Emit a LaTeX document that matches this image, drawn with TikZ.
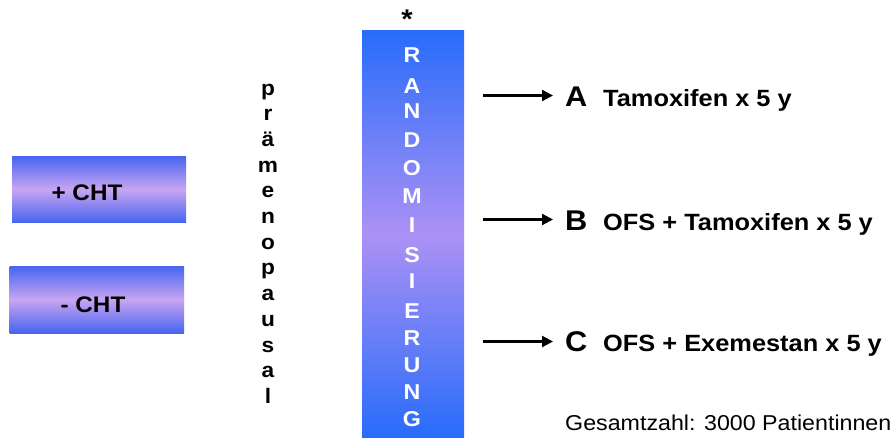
\documentclass[tikz,border=0pt]{standalone}
\usepackage{fontspec}
\setmainfont{Liberation Sans}[FakeStretch=1.08]
\usetikzlibrary{arrows.meta}
\definecolor{barblue}{RGB}{40,108,250}
\definecolor{barmid}{RGB}{172,145,245}
\definecolor{boxblue}{RGB}{70,100,240}
\definecolor{boxmid}{RGB}{200,165,242}
\tikzset{
  barletter/.style={anchor=base, text=white, inner sep=0pt, font=\fontsize{21.5}{21.5}\selectfont\bfseries},
  vletter/.style={anchor=base, inner sep=0pt, font=\fontsize{21}{21}\selectfont\bfseries},
  chtbox/.style={draw=none, top color=boxblue, bottom color=boxblue, middle color=boxmid},
  chttext/.style={anchor=base, inner sep=0pt, font=\fontsize{22.5}{22.5}\selectfont\bfseries},
  armletter/.style={anchor=base west, inner sep=0pt, font=\fontsize{28.5}{28.5}\selectfont\bfseries},
  armtext/.style={anchor=base west, inner sep=0pt, font=\fontsize{23.5}{23.5}\selectfont\bfseries},
  arr/.style={line width=2.2pt, -{Triangle[length=11pt,width=11pt]}, shorten >=12pt},
}
\begin{document}
\begin{tikzpicture}[x=1pt,y=-1pt]
\useasboundingbox (0,0) rectangle (890,437);
\fill[white] (0,0) rectangle (890,437);
% CHT boxes
\shade[chtbox] (12,156) rectangle (186,222.5);
\node[chttext] (plus) at (87,200.5) {+ CHT};
\shade[chtbox] (9.5,266) rectangle (184,333);
\node[chttext] (minus) at (93,312) {- CHT};
% praemenopausal
\foreach \l [count=\i from 0] in {p,r,ä,m,e,n,o,p,a,u,s,a,l}{
  \node[vletter] (pm\i) at (268,95+\i*25.7) {\l};
}
% randomisation bar
\shade[top color=barblue, bottom color=barblue, middle color=barmid] (362,30.7) rectangle (464,437);
\node[inner sep=0pt, font=\fontsize{27}{27}\selectfont\bfseries] (star) at (407,19) {*};
\foreach \l/\y [count=\i] in {R/62,A/93,N/118,D/147,O/175,M/203,I/232,S/262,I/288,E/318,R/345,U/372,N/399,G/426}{
  \node[barletter] (rz\i) at (412,\y) {\l};
}
% arms
\node[armletter] (labA) at (565,106.7) {A};
\node[armtext] (txtA) at (603,106.7) {Tamoxifen x 5 y};
\node[armletter] (labB) at (565,230.7) {B};
\node[armtext] (txtB) at (603,230.7) {OFS + Tamoxifen x 5 y};
\node[armletter] (labC) at (565,351.7) {C};
\node[armtext] (txtC) at (603,351.7) {OFS + Exemestan x 5 y};
\coordinate (sA) at (483,95.5);
\coordinate (sB) at (483,219.5);
\coordinate (sC) at (483,341.5);
\draw[arr] (sA) -- (sA -| labA.west);
\draw[arr] (sB) -- (sB -| labB.west);
\draw[arr] (sC) -- (sC -| labC.west);
\node[anchor=base west, inner sep=0pt, font=\fontsize{21.5}{21.5}\selectfont] (total) at (565,430) {Gesamtzahl: 3000 Patientinnen};
\end{tikzpicture}
\end{document}
